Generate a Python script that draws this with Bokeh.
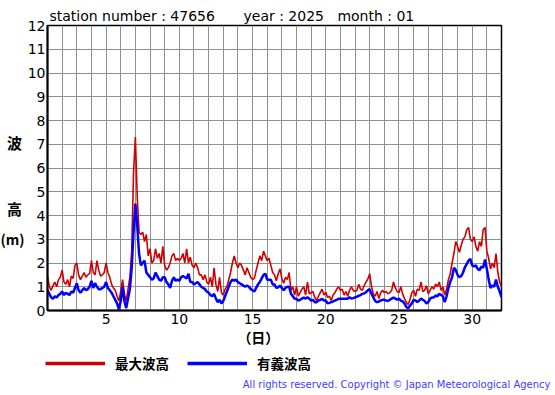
from bokeh.plotting import figure
from bokeh.layouts import column, row
from bokeh.models import Range1d, FixedTicker, Legend, LegendItem, LinearAxis, Label
from bokeh.embed import file_html
from bokeh.resources import INLINE

# 3-hourly values from Jan 1 00h to Feb 1 00h
max_wave = [
    1.45, 1.0, 0.85, 1.05, 1.2, 1.0, 1.3, 1.4,
    1.7, 1.2, 1.1, 1.3, 1.0, 1.45, 1.35, 1.9,
    2.0, 1.5, 1.3, 1.45, 1.6, 1.4, 1.5, 1.55,
    2.1, 1.6, 1.5, 2.1, 1.7, 1.45, 1.5, 1.6,
    2.0, 1.6, 1.4, 1.1, 0.95, 0.85, 0.6, 0.4,
    0.8, 1.3, 0.7, 0.4, 0.9, 1.4, 2.5, 5.8,
    7.3, 4.8, 3.3, 3.2, 3.3, 2.9, 3.2, 2.3,
    2.6, 2.0, 2.1, 2.6, 2.2, 2.4, 2.0, 2.7,
    1.9, 1.7, 1.8, 2.0, 2.3, 2.4, 2.1, 2.2,
    2.1, 2.2, 2.4, 2.0, 2.6, 2.0, 2.25, 1.9,
    1.8, 2.0, 1.8, 1.5, 1.5, 1.3, 1.5, 1.2,
    1.1, 1.4, 1.0, 1.8, 1.1, 0.8, 1.4, 0.75,
    0.65, 0.9, 1.0, 1.3, 1.6, 2.0, 2.3, 2.0,
    1.8, 2.0, 1.9, 1.7, 1.5, 1.8, 1.6, 1.4,
    1.3, 1.35, 1.7, 2.0, 2.3, 2.1, 2.5, 2.3,
    2.1, 2.2, 1.9, 1.6, 1.5, 1.25, 1.55, 1.75,
    1.35, 1.15, 1.4, 1.3, 1.6, 0.85, 1.0, 0.65,
    1.0, 0.6, 0.75, 0.9, 1.0, 0.65, 1.2, 0.7,
    0.75, 0.8, 0.55, 0.42, 0.6, 0.75, 0.9, 0.65,
    0.77, 0.55, 0.6, 0.42, 0.65, 0.75, 0.9, 1.0,
    0.85, 0.9, 0.65, 0.8, 0.6, 0.85, 1.0, 0.85,
    0.8, 0.85, 1.1, 0.9, 0.85, 1.05, 1.2, 1.33,
    1.55, 1.0, 0.7, 0.6, 0.8, 0.5, 0.75, 0.85,
    0.75, 0.8, 0.7, 0.75, 0.85, 1.2, 0.95, 0.8,
    0.75, 1.0, 0.7, 0.5, 0.35, 0.25, 0.45, 0.75,
    0.85, 0.6, 0.9, 0.85, 1.2, 0.8, 0.85, 1.05,
    0.7, 0.85, 1.0, 0.9, 1.12, 1.0, 1.2, 0.85,
    1.0, 0.65, 0.9, 1.3, 1.55, 2.0, 2.4, 2.9,
    2.7, 2.45, 2.75, 3.0, 3.1, 3.4, 3.5, 3.0,
    2.9, 3.1, 2.7, 2.5, 2.9, 2.7, 3.4, 3.5,
    2.5, 2.2, 1.75, 2.0, 1.8, 2.4, 1.6, 1.2,
    1.0,
]

sig_wave = [
    0.85, 0.7, 0.55, 0.5, 0.6, 0.55, 0.65, 0.7,
    0.8, 0.65, 0.75, 0.7, 0.65, 0.8, 0.75, 0.95,
    1.15, 0.85, 0.75, 0.85, 0.95, 0.85, 0.9, 1.0,
    1.25, 0.95, 1.15, 1.0, 0.9, 0.9, 0.95, 1.0,
    1.2, 0.95, 0.85, 0.75, 0.6, 0.45, 0.3, 0.05,
    0.4, 1.0, 0.4, 0.1, 0.5, 0.9, 1.8, 3.3,
    4.5, 3.6, 2.4, 1.9, 2.0, 2.1, 1.6, 1.5,
    1.4, 1.3, 1.35, 1.6, 1.45, 1.3, 1.25, 1.4,
    1.4, 1.2, 1.1, 0.95, 1.25, 1.4, 1.25, 1.3,
    1.25, 1.4, 1.45, 1.4, 1.35, 1.55, 1.2, 1.2,
    1.1, 1.15, 1.2, 1.1, 1.0, 0.95, 0.9, 0.8,
    0.75, 0.65, 0.6, 0.7, 0.5, 0.35, 0.45, 0.3,
    0.4, 0.6, 0.8, 1.0, 1.2, 1.3, 1.25, 1.3,
    1.2, 1.15, 1.1, 1.05, 1.0, 1.05, 1.0, 0.9,
    0.85, 0.8, 0.95, 1.1, 1.2, 1.35, 1.5, 1.55,
    1.3, 1.3, 1.3, 1.1, 1.1, 0.95, 0.98, 1.05,
    0.95, 0.85, 0.95, 1.0, 1.0, 0.7, 0.6, 0.5,
    0.5, 0.42, 0.45, 0.5, 0.55, 0.5, 0.56, 0.5,
    0.42, 0.45, 0.35, 0.35, 0.42, 0.45, 0.49, 0.42,
    0.42, 0.3, 0.32, 0.35, 0.38, 0.42, 0.45, 0.49,
    0.49, 0.5, 0.49, 0.5, 0.5, 0.56, 0.5, 0.52,
    0.55, 0.58, 0.62, 0.65, 0.7, 0.72, 0.77, 0.85,
    0.9, 0.7, 0.55, 0.4, 0.35, 0.38, 0.42, 0.45,
    0.45, 0.42, 0.4, 0.45, 0.5, 0.55, 0.5, 0.45,
    0.5, 0.42, 0.38, 0.3, 0.15, 0.1, 0.2, 0.3,
    0.45, 0.42, 0.35, 0.42, 0.5, 0.45, 0.4, 0.3,
    0.35, 0.5, 0.55, 0.55, 0.63, 0.6, 0.7, 0.65,
    0.6, 0.35, 0.6, 0.95, 1.2, 1.4, 1.8, 1.7,
    1.5, 1.4, 1.45, 1.6, 1.82, 1.96, 2.1, 2.17,
    1.9, 1.85, 1.9, 1.75, 1.7, 1.85, 1.8, 2.15,
    1.75, 1.3, 0.95, 1.05, 1.0, 1.3, 1.0, 0.8,
    0.56,
]

samples_per_day = 8
x_tick_labels = [5, 10, 15, 20, 25, 30]
y_tick_labels = list(range(0, 13))
title_parts = ["station number : 47656", "year : 2025", "month : 01"]
y_label_parts = ["波", "高", "(m)"]
x_label_text = "（日）"
legend_labels = ["最大波高", "有義波高"]
copyright_text = "All rights reserved. Copyright © Japan Meteorological Agency"

# layout anchors (in axis units) for the title and x label around the frame
title_anchor_x = [6.78, 17.13, 23.42]
x_label_anchor = [15.4]

times = [1 + i / samples_per_day for i in range(len(max_wave))]

FONT = "DejaVu Sans"
CJK = "Noto Sans CJK JP"
LEFT_W = 24
MAIN_H = 351
FOOT_H = 395 - MAIN_H


def bare_fig(w, h, xr, yr):
    f = figure(width=w, height=h, output_backend="svg", toolbar_location=None,
               x_range=Range1d(*xr), y_range=Range1d(*yr),
               x_axis_location=None, y_axis_location=None,
               min_border_left=0, min_border_right=0, min_border_top=0, min_border_bottom=0)
    f.grid.visible = False
    f.outline_line_color = None
    f.background_fill_color = "white"
    f.border_fill_color = "white"
    f.frame_align = False
    return f


p = figure(width=555 - LEFT_W, height=MAIN_H, output_backend="svg", toolbar_location=None,
           x_range=Range1d(1, 32), y_range=Range1d(0, 12),
           min_border_left=47 - LEFT_W, min_border_right=54, min_border_top=25,
           min_border_bottom=MAIN_H - 310)
p.frame_align = False
p.background_fill_color = "white"
p.border_fill_color = "white"
p.outline_line_color = "black"
p.outline_line_width = 1.5


def plain_axis(ax):
    ax.major_tick_in = 0
    ax.major_tick_out = 0
    ax.minor_tick_in = 0
    ax.minor_tick_out = 0
    ax.major_label_text_color = "black"


for ax in (p.xaxis[0], p.yaxis[0]):
    plain_axis(ax)
    ax.axis_line_width = 2
    ax.axis_line_color = "black"
    ax.major_label_text_font = FONT
    ax.major_label_text_font_size = "14px"
p.xaxis.ticker = FixedTicker(ticks=x_tick_labels)
p.yaxis.ticker = FixedTicker(ticks=y_tick_labels)
p.xaxis.major_label_standoff = 3
p.yaxis.major_label_standoff = 2

p.xgrid.ticker = FixedTicker(ticks=list(range(1, 33)))
p.ygrid.ticker = FixedTicker(ticks=y_tick_labels)
for g in (p.xgrid[0], p.ygrid[0]):
    g.grid_line_color = "#8f8f8f"
    g.grid_line_width = 1
    g.grid_line_alpha = 1.0

p.line(times, max_wave, line_color="#d00000", line_width=1.6)
p.line(times, sig_wave, line_color="#0000ff", line_width=2.5)

# title as a label-only axis above the frame
title_axis = LinearAxis(ticker=FixedTicker(ticks=title_anchor_x),
                        major_label_overrides=dict(zip(title_anchor_x, title_parts)),
                        axis_line_color=None, major_label_standoff=2,
                        major_label_text_font=FONT, major_label_text_font_size="14px")
plain_axis(title_axis)
p.add_layout(title_axis, "above")

# x label below
xlab_axis = LinearAxis(ticker=FixedTicker(ticks=x_label_anchor),
                       major_label_overrides=dict(zip(x_label_anchor, [x_label_text])),
                       axis_line_color=None, major_label_standoff=0,
                       major_label_text_font=CJK, major_label_text_font_style="bold",
                       major_label_text_font_size="14px")
plain_axis(xlab_axis)
p.add_layout(xlab_axis, "below")

# stacked y label in a narrow strip on the left
left = bare_fig(LEFT_W, MAIN_H, (0, LEFT_W), (0, MAIN_H))
for t, tx, ty, fs in zip(y_label_parts, [14, 14, 12], [142, 207.5, 238], ["15px", "15px", "14px"]):
    left.add_layout(Label(x=tx, y=MAIN_H - ty, x_units="screen", y_units="screen", text=t,
                          text_font=CJK, text_font_size=fs, text_font_style="bold",
                          text_color="black", text_align="center", text_baseline="middle"))

# footer: legend and copyright
foot = bare_fig(555, FOOT_H, (0, 555), (0, FOOT_H))
nan = float("nan")
leg_r = foot.line([nan], [nan], line_color="#d00000", line_width=3.5)
leg_b = foot.line([nan], [nan], line_color="#0000ff", line_width=3.5)
legend = Legend(items=[LegendItem(label=legend_labels[0], renderers=[leg_r]),
                       LegendItem(label=legend_labels[1], renderers=[leg_b])],
                location=(45, FOOT_H - (363 - MAIN_H) - 10), orientation="horizontal",
                glyph_width=60, glyph_height=14, label_height=14,
                label_standoff=10, spacing=18, padding=0, margin=0,
                border_line_color=None, background_fill_alpha=0,
                label_text_font=CJK, label_text_font_style="bold",
                label_text_font_size="13.5px", label_text_color="black")
foot.add_layout(legend, "center")

foot.add_layout(Label(x=550, y=FOOT_H - (384 - MAIN_H), x_units="screen", y_units="screen",
                      text=copyright_text, text_font=FONT, text_font_size="10px",
                      text_color="#3c3cff", text_baseline="middle", text_align="right"))

layout = column(row(left, p, spacing=0), foot, spacing=0)
open("out.html", "w").write(file_html(layout, INLINE))
